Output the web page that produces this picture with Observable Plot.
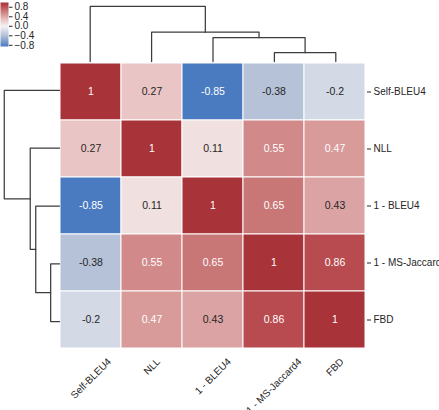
<!DOCTYPE html>
<html>
<head>
<meta charset="utf-8">
<script src="https://cdn.jsdelivr.net/npm/d3@7"></script>
<script src="https://cdn.jsdelivr.net/npm/@observablehq/plot@0.6"></script>
<style>
  body { margin: 0; background: #fff; }
  #fig { position: relative; width: 439px; height: 410px; overflow: hidden;
         font-family: "Liberation Sans", Arial, sans-serif; }
  #fig > svg, #fig > figure { position: absolute; margin: 0; }
</style>
</head>
<body>
<div id="fig"></div>
<script>
// Metrics in clustered order (rows and columns share it)
const metrics = ["Self-BLEU4", "NLL", "1 - BLEU4", "1 - MS-Jaccard4", "FBD"];

// Pairwise correlations, one array per row
const corrSelfBLEU4 = [1, 0.27, -0.85, -0.38, -0.2];
const corrNLL       = [0.27, 1, 0.11, 0.55, 0.47];
const corrBLEU4     = [-0.85, 0.11, 1, 0.65, 0.43];
const corrMSJ4      = [-0.38, 0.55, 0.65, 1, 0.86];
const corrFBD       = [-0.2, 0.47, 0.43, 0.86, 1];
const corrRows = [corrSelfBLEU4, corrNLL, corrBLEU4, corrMSJ4, corrFBD];

// Linkage: each merge joins two nodes (ids >= 5 are earlier merges)
const mergeLeft   = [3, 2, 1, 0];
const mergeRight  = [4, 5, 6, 7];
const mergeHeight = [0.16, 0.43, 0.53, 1.0];

// Colour bar ticks and diverging colour stops
const colorbarTicks = [0.8, 0.4, 0, -0.4, -0.8];
const colorStops = [-0.85, -0.38, 0, 0.27, 0.55, 0.86, 1];
const colorRange = ["#4a7bc0", "#b5c2d8", "#f5f3f3", "#e9c5c5", "#d18a89", "#b84b4f", "#a83339"];

const FONT = "Liberation Sans, Arial, sans-serif";
const DARK = "#262626";
const colorScale = {type: "linear", domain: colorStops, range: colorRange, interpolate: "rgb", clamp: true};
const colorOf = d3.scaleLinear().domain(colorStops).range(colorRange).interpolate(d3.interpolateRgb).clamp(true);

// Long table for the heatmap
const cells = corrRows.flatMap((row, i) => row.map((v, j) => ({row: metrics[i], col: metrics[j], value: v})));

// Annotation colour chosen from the cell's relative luminance
function luminance(c) {
  const {r, g, b} = d3.rgb(c);
  const lin = v => { v /= 255; return v <= 0.03928 ? v / 12.92 : Math.pow((v + 0.055) / 1.055, 2.4); };
  return 0.2126 * lin(r) + 0.7152 * lin(g) + 0.0722 * lin(b);
}
const textColor = v => luminance(colorOf(v)) > 0.408 ? DARK : "#ffffff";

// Dendrogram elbows: leaf positions at band centres, merges at their heights
function dendroPoints() {
  const pos = metrics.map((_, i) => i + 0.5);
  const hgt = metrics.map(() => 0);
  const pts = [];
  mergeHeight.forEach((h, k) => {
    const a = mergeLeft[k], b = mergeRight[k];
    pts.push({k, p: pos[a], h: hgt[a]}, {k, p: pos[a], h}, {k, p: pos[b], h}, {k, p: pos[b], h: hgt[b]});
    pos.push((pos[a] + pos[b]) / 2);
    hgt.push(h);
  });
  return pts;
}
const elbows = dendroPoints();

// Text measurement for the rotated column labels
const ctx = document.createElement("canvas").getContext("2d");
ctx.font = "10px 'Liberation Sans', Arial, sans-serif";
const textW = s => ctx.measureText(s).width;

const fig = document.getElementById("fig");
function place(el, x, y) {
  el.style.left = x + "px";
  el.style.top = y + "px";
  fig.appendChild(el);
}

const HX = 59, HY = 61, HW = 307, HH = 289;

// Heatmap
const heatChart = Plot.plot({
  width: HW + 73, height: HH + 60,
  marginLeft: 0, marginTop: 0, marginRight: 73, marginBottom: 60,
  style: {fontFamily: FONT, fontSize: "10px", background: "transparent"},
  x: {type: "band", domain: metrics, padding: 0, axis: null},
  y: {type: "band", domain: metrics, padding: 0, axis: null},
  color: colorScale,
  marks: [
    Plot.cell(cells, {x: "col", y: "row", fill: "value", stroke: "#ffffff", strokeWidth: 1}),
    Plot.text(cells, {x: "col", y: "row", text: d => String(d.value), fill: d => textColor(d.value), fontSize: 10.5}),
    Plot.axisY({anchor: "right", tickSize: 4, tickPadding: 3, fontSize: 10, label: null, stroke: DARK, fill: DARK}),
    ...metrics.map(m => Plot.text([m], {
      x: d => d, frameAnchor: "bottom", rotate: -45, textAnchor: "middle", lineAnchor: "middle",
      dy: 6 + (textW(m) + 10) * Math.SQRT1_2 / 2, fontSize: 10, fill: DARK
    }))
  ]
});
place(heatChart, HX, HY);

// Column dendrogram (top)
const colDendro = Plot.plot({
  width: HW, height: HY,
  marginLeft: 0, marginRight: 0, marginTop: 3, marginBottom: 0,
  style: {background: "transparent", overflow: "visible"},
  x: {domain: [0, metrics.length], axis: null},
  y: {domain: [0, 1.05], axis: null},
  marks: [Plot.line(elbows, {x: "p", y: "h", z: "k", stroke: "#3c3c3c", strokeWidth: 1.25})]
});
place(colDendro, HX, 0);

// Row dendrogram (left)
const rowDendro = Plot.plot({
  width: HX, height: HH,
  marginLeft: 1, marginRight: 0, marginTop: 0, marginBottom: 0,
  style: {background: "transparent", overflow: "visible"},
  x: {domain: [0, 1.05], reverse: true, axis: null},
  y: {domain: [0, metrics.length], reverse: true, axis: null},
  marks: [Plot.line(elbows, {x: "h", y: "p", z: "k", stroke: "#3c3c3c", strokeWidth: 1.25})]
});
place(rowDendro, 0, HY);

// Colour bar
const colorBar = Plot.plot({
  width: 42, height: 50,
  marginLeft: 0, marginRight: 34, marginTop: 2, marginBottom: 4,
  style: {fontFamily: FONT, fontSize: "10px", background: "transparent", overflow: "visible"},
  x: {domain: [0, 1], axis: null},
  y: {domain: [-0.85, 1], axis: null},
  color: colorScale,
  marks: [
    Plot.raster({x1: 0, x2: 1, y1: -0.85, y2: 1, width: 1, height: 200, fill: (x, y) => y, imageRendering: "auto"}),
    Plot.axisY({anchor: "right", ticks: colorbarTicks, tickFormat: d3.format(".1f"), tickSize: 3.5, tickPadding: 2.5,
                fontSize: 10, label: null, stroke: DARK, fill: DARK})
  ]
});
place(colorBar, 0, 0);
</script>
</body>
</html>
